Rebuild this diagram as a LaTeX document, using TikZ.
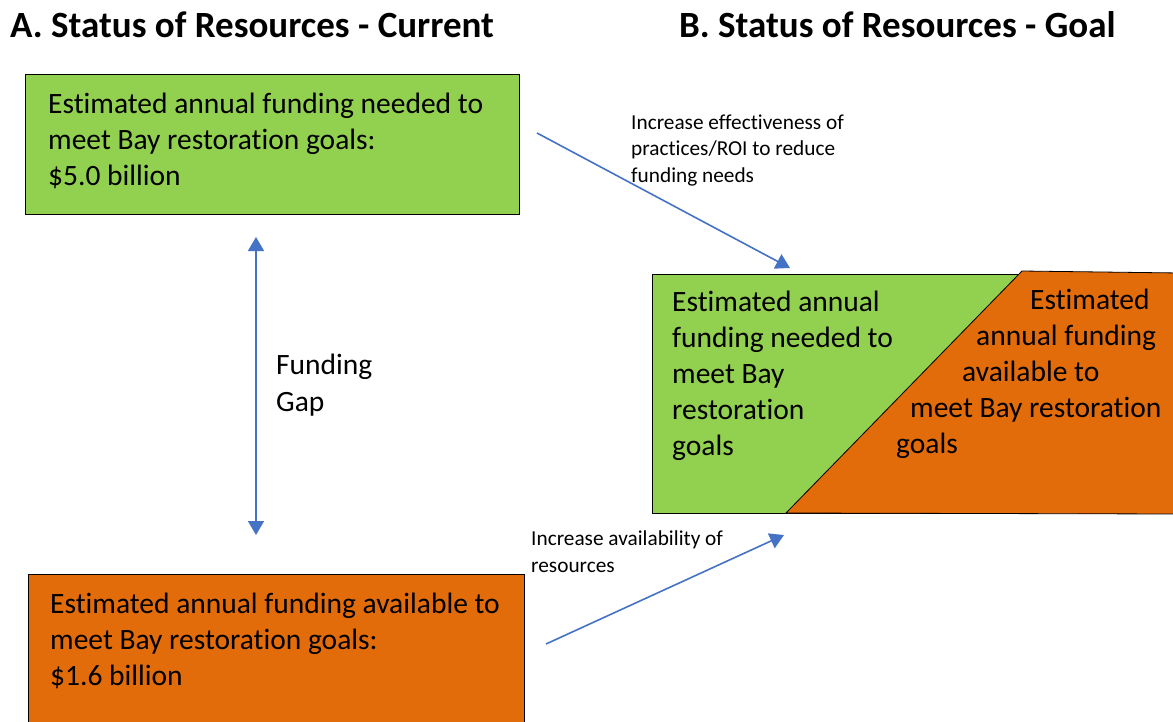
\documentclass[tikz,border=0pt]{standalone}
\usepackage{fontspec}
\setmainfont{Carlito}[Ligatures=NoCommon]
\usetikzlibrary{arrows.meta}
\definecolor{needgreen}{RGB}{146,208,80}
\definecolor{availorange}{RGB}{227,108,10}
\definecolor{flowblue}{RGB}{68,114,196}
\tikzset{
  heading/.style={anchor=base west, inner sep=0pt, font=\fontsize{37}{42}\selectfont\bfseries},
  % multi-line texts are placed by the baseline of their last line
  bodytext/.style={anchor=base west, inner sep=0pt, align=left, font=\fontsize{29.5}{36}\selectfont},
  notetext/.style={anchor=base west, inner sep=0pt, align=left, font=\fontsize{21.3}{26.5}\selectfont},
  panel/.style={draw=black, line width=0.8pt},
  flow/.style={draw=flowblue, line width=1.6pt, -{Triangle[width=16pt,length=14pt]}},
  gapflow/.style={draw=flowblue, line width=1.6pt, {Triangle[width=16pt,length=14pt]}-{Triangle[width=16pt,length=14pt]}}
}
\begin{document}
\begin{tikzpicture}[x=1pt,y=-1pt]
\useasboundingbox (0,0) rectangle (1173,721);

% headings
\node[heading] (headA) at (10,37) {A. Status of Resources - Current};
\node[heading] (headB) at (679,37) {B. Status of Resources - Goal};

% current: needed and available funding
\node[panel, fill=needgreen, inner sep=0pt, minimum width=494pt, minimum height=140pt, anchor=north west] (needbox) at (25,74) {};
\node[bodytext] (needtext) at (48,185) {Estimated annual funding needed to\\meet Bay restoration goals:\\\$5.0 billion};

\node[panel, fill=availorange, inner sep=0pt, minimum width=496pt, minimum height=160pt, anchor=north west] (availbox) at (28,574) {};
\node[bodytext] (availtext) at (50,685) {Estimated annual funding available to\\meet Bay restoration goals:\\\$1.6 billion};

% funding gap
\coordinate (gaptop) at (256,237);
\coordinate (gapbot) at (256,535);
\draw[gapflow] (gapbot) -- (gaptop);
\node[bodytext] (gaptext) at (276,411) {Funding\\[1pt]Gap};

% goal: overlapping needed / available
\node[panel, fill=needgreen, inner sep=0pt, minimum width=380pt, minimum height=239pt, anchor=north west] (goalneed) at (652,274) {};
\coordinate (ga) at (1022,271);
\coordinate (gb) at (1180,273);
\coordinate (gc) at (1180,514);
\coordinate (gd) at (786,513);
\filldraw[panel, fill=availorange] (ga) -- (gb) -- (gc) -- (gd) -- cycle;

\node[bodytext] (goalneedtext) at (672,455) {Estimated annual\\funding needed to\\meet Bay\\restoration\\goals};
\node[bodytext] (ga1) at (1030,309) {Estimated};
\node[bodytext] (ga2) at (976,345) {annual funding};
\node[bodytext] (ga3) at (962,381) {available to};
\node[bodytext] (ga4) at (910,417) {meet Bay restoration};
\node[bodytext] (ga5) at (896,453) {goals};

% improvement paths
\coordinate (effstart) at (537,133);
\coordinate (effend) at (790,268);
\draw[flow] (effstart) -- (effend);
\node[notetext] (efftext) at (631,182) {Increase effectiveness of\\practices/ROI to reduce\\funding needs};

\coordinate (resstart) at (546,644);
\coordinate (resend) at (784,535);
\draw[flow] (resstart) -- (resend);
\node[notetext] (restext) at (531,572) {Increase availability of\\resources};
\end{tikzpicture}
\end{document}
